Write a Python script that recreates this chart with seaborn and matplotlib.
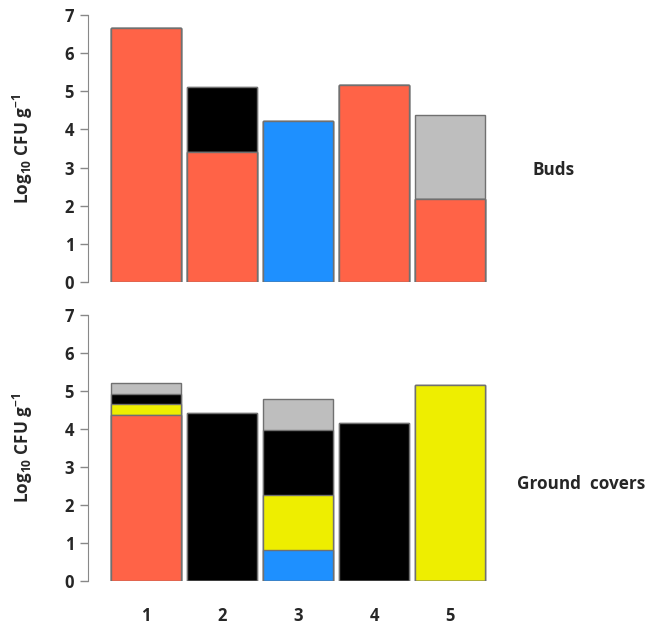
import numpy as np
import pandas as pd
import matplotlib
matplotlib.use("Agg")
import matplotlib.pyplot as plt
import seaborn as sns

sns.set_style("white")
plt.rcParams['font.family'] = ['Open Sans', 'DejaVu Sans']
plt.rcParams['mathtext.fontset'] = 'custom'
plt.rcParams['mathtext.rm'] = 'Open Sans:bold'
plt.rcParams['mathtext.it'] = 'Open Sans:bold'
plt.rcParams['mathtext.bf'] = 'Open Sans:bold'

sites = ["1", "2", "3", "4", "5"]
layers = ["tomato", "blue", "yellow", "black", "grey"]
layer_colors = {"tomato": "#FF6347", "blue": "#1E90FF", "yellow": "#EEEE00",
                "black": "#000000", "grey": "#BEBEBE"}

# segment heights (log10 CFU/g), stacked bottom to top in the order of `layers`
buds_tomato = [6.67, 3.41, 0.00, 5.17, 2.18]
buds_blue   = [0.00, 0.00, 4.22, 0.00, 0.00]
buds_yellow = [0.00, 0.00, 0.00, 0.00, 0.00]
buds_black  = [0.00, 1.70, 0.00, 0.00, 0.00]
buds_grey   = [0.00, 0.00, 0.00, 0.00, 2.20]

gc_tomato = [4.37, 0.00, 0.00, 0.00, 0.00]
gc_blue   = [0.00, 0.00, 0.81, 0.00, 0.00]
gc_yellow = [0.28, 0.00, 1.46, 0.00, 5.16]
gc_black  = [0.28, 4.41, 1.70, 4.17, 0.00]
gc_grey   = [0.27, 0.00, 0.83, 0.00, 0.00]

buds = [buds_tomato, buds_blue, buds_yellow, buds_black, buds_grey]
ground = [gc_tomato, gc_blue, gc_yellow, gc_black, gc_grey]


def stacked(ax, segs):
    cum = np.cumsum(np.array(segs), axis=0)
    df = pd.DataFrame(cum.T, columns=layers)
    df["site"] = sites
    # draw the tallest cumulative layer first, lower layers on top
    for lay in layers[::-1]:
        sns.barplot(data=df, x="site", y=lay, order=sites, color=layer_colors[lay],
                    width=0.92, edgecolor="#707070", linewidth=1.0,
                    saturation=1, errorbar=None, ax=ax)
    ax.set_xlim(-0.763, 4.776)
    ax.set_ylim(0, 7)
    ax.set_yticks(range(0, 8))
    ax.set_xlabel("")
    ax.set_ylabel("Log$_{10}$ CFU g$^{-1}$", fontsize=12.3, fontweight="bold")
    ax.yaxis.set_label_coords(-0.126, 0.5)
    for s in ["top", "right", "bottom"]:
        ax.spines[s].set_visible(False)
    ax.spines["left"].set_color("#888888")
    ax.tick_params(axis="y", length=6, width=1, color="#888888", pad=4,
                   labelsize=12, left=True)
    for t in ax.get_yticklabels():
        t.set_fontweight("bold")


fig = plt.figure(figsize=(6.47, 6.28), dpi=100)
ax1 = fig.add_axes([0.1360, 0.5510, 0.6507, 0.4252])
ax2 = fig.add_axes([0.1360, 0.0748, 0.6507, 0.4236])

stacked(ax1, buds)
stacked(ax2, ground)

ax1.set_xticks([])
ax2.tick_params(axis="x", length=0, pad=19, labelsize=12)
for t in ax2.get_xticklabels():
    t.set_fontweight("bold")

fig.text(554 / 647, 1 - 170 / 628, "Buds", fontsize=12.3, fontweight="bold",
         ha="center", va="center")
fig.text(581 / 647, 1 - 484 / 628, "Ground  covers", fontsize=12.3, fontweight="bold",
         ha="center", va="center")

fig.savefig("out.png", dpi=100)
